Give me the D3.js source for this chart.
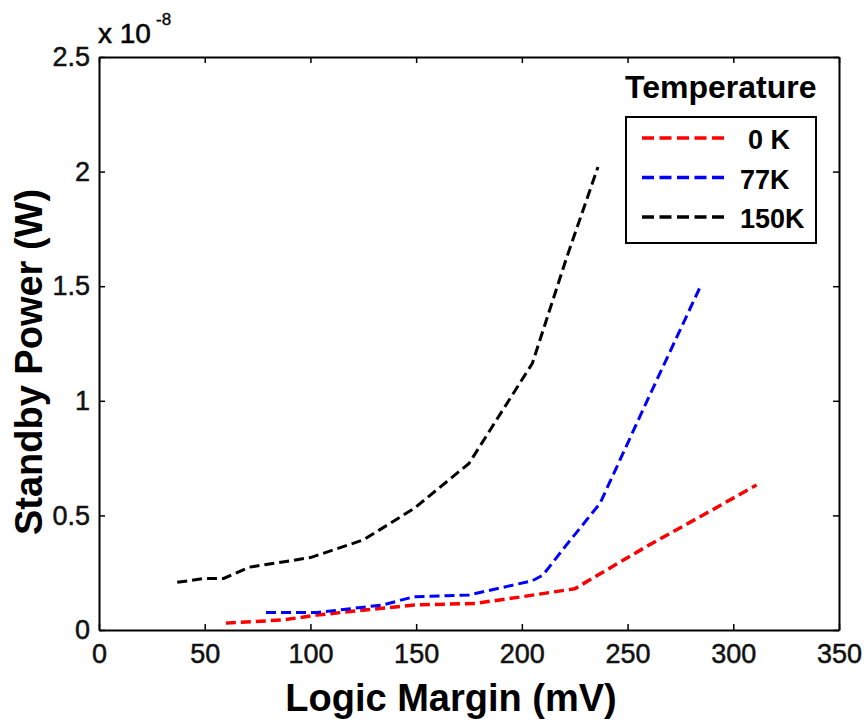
<!DOCTYPE html>
<html>
<head>
<meta charset="utf-8">
<script src="https://cdn.jsdelivr.net/npm/d3@7"></script>
<style>
  body { margin: 0; background: #fff; }
  text { font-family: Arial, "Liberation Sans", sans-serif; }
</style>
</head>
<body>
<div class="C"></div>
<script>
// logic margin (mV) vs standby power (x 1e-8 W)
var series0K = [[60, 0.03], [87, 0.044], [103, 0.065], [134, 0.095], [149, 0.109], [178, 0.116], [200, 0.145], [225, 0.18], [260, 0.37], [287, 0.508], [311, 0.633]];
var series77K = [[79, 0.076], [103, 0.076], [134, 0.109], [149, 0.145], [175, 0.153], [205, 0.215], [210, 0.24], [221, 0.37], [237, 0.553], [260, 1.015], [284, 1.49]];
var series150K = [[37, 0.208], [50, 0.225], [59, 0.225], [71, 0.274], [100, 0.316], [125, 0.393], [149, 0.53], [175, 0.727], [205, 1.164], [221, 1.62], [236, 2.02]];
var seriesNames = ['0 K', '77K', '150K'];
var seriesColors = ['#ff0000', '#0000ff', '#000000'];
var xTicks = [0, 50, 100, 150, 200, 250, 300, 350];
var yTicks = [0, 0.5, 1, 1.5, 2, 2.5];

var width = 866, height = 721;
var padL = 99, padR = 839, padT = 57, padB = 630;

var svg = d3.select('.C').append('svg').attr('width', width).attr('height', height);

var x = d3.scaleLinear().domain([0, 350]).range([padL, padR]);
var y = d3.scaleLinear().domain([0, 2.5]).range([padB, padT]);

// axes, ticks inward
var xAxis = svg.append('g').attr('transform', 'translate(0,' + padB + ')')
    .call(d3.axisBottom(x).tickValues(xTicks).tickSizeInner(-6).tickSizeOuter(0).tickPadding(14));
var yAxis = svg.append('g').attr('transform', 'translate(' + padL + ',0)')
    .call(d3.axisLeft(y).tickValues(yTicks).tickSizeInner(-6).tickSizeOuter(0).tickPadding(9).tickFormat(d3.format('')));
var xTop = svg.append('g').attr('transform', 'translate(0,' + padT + ')')
    .call(d3.axisTop(x).tickValues(xTicks).tickSizeInner(-6).tickSizeOuter(0).tickFormat(''));
var yRight = svg.append('g').attr('transform', 'translate(' + padR + ',0)')
    .call(d3.axisRight(y).tickValues(yTicks).tickSizeInner(-6).tickSizeOuter(0).tickFormat(''));

[xAxis, yAxis, xTop, yRight].forEach(function (g) {
    g.select('.domain').attr('stroke', '#000').attr('stroke-width', 2);
    g.selectAll('.tick line').attr('stroke', '#000').attr('stroke-width', 1.5);
    g.selectAll('.tick text').style('font-size', '27px').attr('fill', '#111')
        .attr('stroke', '#111').attr('stroke-width', 0.5);
});

svg.append('text').text('x 10').attr('x', 98).attr('y', 43)
    .style('font-size', '28px').attr('stroke', '#111').attr('stroke-width', 0.6);
svg.append('text').text('-8').attr('x', 156).attr('y', 25)
    .style('font-size', '17px').attr('stroke', '#111').attr('stroke-width', 0.4);

// curves
var line = d3.line().x(function (d) { return x(d[0]); }).y(function (d) { return y(d[1]); });
var allSeries = [series0K, series77K, series150K];
var widths = [3.5, 3, 3];
svg.append('g').selectAll('path').data(allSeries).enter().append('path')
    .attr('d', line)
    .attr('fill', 'none')
    .attr('stroke', function (d, i) { return seriesColors[i]; })
    .attr('stroke-width', function (d, i) { return widths[i]; })
    .attr('stroke-dasharray', '10,5');

// legend
svg.append('text').text('Temperature').attr('x', 625).attr('y', 98)
    .style('font-size', '32px').style('font-weight', 'bold');
svg.append('rect').attr('x', 626).attr('y', 117).attr('width', 190).attr('height', 126)
    .attr('fill', '#fff').attr('stroke', '#000').attr('stroke-width', 2);
var leg = svg.append('g').selectAll('g').data(seriesNames).enter().append('g')
    .attr('transform', function (d, i) { return 'translate(0,' + (138 + i * 39.5) + ')'; });
leg.append('line').attr('x1', 642).attr('x2', 724).attr('y1', 0).attr('y2', 0)
    .attr('stroke', function (d, i) { return seriesColors[i]; })
    .attr('stroke-width', 3.5).attr('stroke-dasharray', '12,5.5');
leg.append('text').text(function (d) { return d; })
    .attr('x', function (d, i) { return i === 0 ? 748 : 740; }).attr('y', 11)
    .style('font-size', '27px').style('font-weight', 'bold');

// axis titles
svg.append('text').text('Logic Margin (mV)').attr('x', 451).attr('y', 711)
    .attr('text-anchor', 'middle').style('font-size', '38px').style('font-weight', 'bold');
svg.append('text').text('Standby Power (W)')
    .attr('transform', 'translate(42,362) rotate(-90)')
    .attr('text-anchor', 'middle').style('font-size', '38px').style('font-weight', 'bold');
</script>
</body>
</html>
